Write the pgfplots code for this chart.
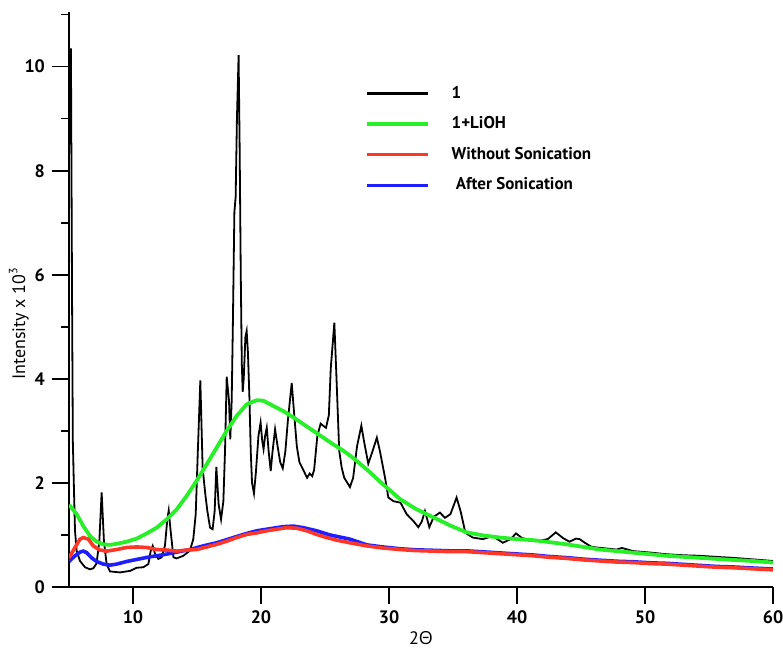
\documentclass[border=0pt]{standalone}
\usepackage{pgfplots}
\usepackage{pgfplotstable}
\usepackage{fontspec}
\pgfplotsset{compat=1.18}
\setmainfont{PT Sans}
\newfontfamily\grk{Open Sans}

\definecolor{xgreen}{RGB}{40,240,40}
\definecolor{xred}{RGB}{255,55,40}
\definecolor{xblue}{RGB}{30,30,255}

\pgfplotstableread{
x y
5.02 8.5
5.15 10.35
5.24 5.5
5.3 2.8
5.39 1.85
5.47 1.08
5.6 0.69
5.86 0.50
6.25 0.38
6.64 0.34
6.9 0.36
7.15 0.45
7.37 0.88
7.55 1.82
7.73 0.88
7.94 0.44
8.2 0.30
8.98 0.28
9.77 0.31
10.29 0.37
10.81 0.38
11.2 0.44
11.38 0.69
11.54 0.79
11.72 0.64
11.98 0.54
12.24 0.57
12.5 0.8
12.68 1.3
12.79 1.47
12.94 1.08
13.16 0.57
13.41 0.55
13.93 0.60
14.45 0.70
14.71 0.92
14.9 1.4
15.05 2.5
15.26 3.97
15.44 2.29
15.65 1.78
15.81 1.46
16.02 1.14
16.22 1.11
16.38 1.46
16.51 2.31
16.69 1.59
16.88 1.30
17.06 1.65
17.19 2.62
17.32 4.04
17.5 3.58
17.6 2.84
17.71 3.58
17.8 5.0
17.92 7.2
18.02 7.5
18.12 9.0
18.25 10.22
18.33 8.5
18.42 6.0
18.5 4.3
18.57 3.75
18.65 4.0
18.78 4.8
18.88 4.92
18.98 4.5
19.1 3.6
19.2 2.6
19.3 2.0
19.45 1.8
19.6 2.2
19.8 2.9
19.97 3.16
20.1 2.8
20.2 2.65
20.32 2.9
20.45 3.06
20.6 2.6
20.76 2.23
20.9 2.6
21.1 3.03
21.3 2.7
21.5 2.4
21.7 2.28
21.9 2.6
22.1 3.2
22.4 3.92
22.6 3.3
22.8 2.7
23.0 2.4
23.3 2.25
23.6 2.1
23.8 2.18
24.0 2.13
24.15 2.25
24.4 2.9
24.66 3.14
24.85 3.1
25.08 3.06
25.3 3.3
25.45 4.2
25.73 5.08
25.9 4.0
26.11 2.62
26.3 2.3
26.5 2.1
26.95 1.92
27.2 2.1
27.5 2.7
27.84 3.1
28.05 2.8
28.38 2.37
28.7 2.6
29.05 2.87
29.3 2.6
29.69 2.1
29.95 1.72
30.34 1.65
30.9 1.62
31.38 1.40
31.9 1.27
32.29 1.15
32.55 1.25
32.81 1.46
33.15 1.15
33.5 1.35
33.98 1.43
34.37 1.33
34.8 1.40
35.28 1.72
35.6 1.45
35.97 1.04
36.55 0.95
37.33 0.92
38.11 0.98
38.89 0.85
39.5 0.92
39.92 1.03
40.4 0.94
41.42 0.88
42.4 0.92
43.03 1.05
43.6 0.94
44.1 0.87
44.6 0.93
44.9 0.92
45.3 0.85
45.83 0.77
47.0 0.74
47.78 0.72
48.2 0.75
49.08 0.69
50.5 0.66
51.68 0.63
53.0 0.61
54.29 0.60
55.5 0.58
56.89 0.56
58.5 0.53
60.0 0.50
}\sampleone

\pgfplotstableread{
x y
5.0 1.58
5.6 1.40
6.12 1.17
6.64 0.98
7.16 0.87
7.68 0.82
8.2 0.81
8.72 0.83
9.5 0.87
10.29 0.93
11.07 1.03
11.85 1.14
12.63 1.30
13.41 1.49
14.19 1.75
14.97 2.04
15.76 2.36
16.54 2.68
17.32 3.00
18.1 3.29
18.88 3.51
19.66 3.59
20.18 3.58
20.96 3.48
21.74 3.38
22.53 3.26
23.31 3.13
24.09 3.00
24.87 2.87
25.65 2.74
26.43 2.62
27.2 2.48
28.26 2.26
29.5 1.98
30.86 1.69
32.1 1.50
33.46 1.34
34.8 1.18
36.07 1.05
37.4 0.99
38.67 0.95
40.0 0.92
41.28 0.90
42.6 0.86
43.88 0.82
45.2 0.77
46.48 0.72
47.8 0.69
49.08 0.66
50.4 0.63
51.68 0.60
53.0 0.58
54.29 0.56
55.6 0.54
56.89 0.52
58.4 0.50
60.0 0.47
}\lioh

\pgfplotstableread{
x y
5.0 0.56
5.47 0.76
5.86 0.92
6.12 0.95
6.51 0.92
6.9 0.79
7.42 0.71
7.94 0.69
8.72 0.72
9.5 0.76
10.29 0.77
11.07 0.76
11.85 0.72
12.63 0.71
13.41 0.69
14.19 0.71
14.97 0.72
15.76 0.77
16.54 0.82
17.32 0.88
18.1 0.95
18.88 1.01
19.66 1.04
20.44 1.08
21.22 1.11
22.0 1.14
22.79 1.13
23.57 1.08
24.35 1.01
25.13 0.95
25.91 0.90
26.95 0.85
28.26 0.79
29.5 0.75
30.86 0.72
32.1 0.70
33.46 0.69
34.8 0.68
36.07 0.68
37.4 0.66
38.67 0.64
40.0 0.62
41.28 0.60
42.6 0.57
43.88 0.55
45.2 0.52
46.48 0.50
47.8 0.48
49.08 0.47
50.4 0.45
51.68 0.44
53.0 0.42
54.29 0.40
55.6 0.38
56.89 0.37
58.4 0.35
60.0 0.33
}\without

\pgfplotstableread{
x y
5.0 0.49
5.47 0.60
5.86 0.67
6.12 0.69
6.38 0.66
6.77 0.56
7.16 0.49
7.68 0.44
8.2 0.42
8.72 0.44
9.5 0.49
10.29 0.53
11.33 0.58
12.37 0.62
13.41 0.67
14.45 0.72
15.49 0.79
16.54 0.85
17.58 0.93
18.62 1.01
19.66 1.08
20.7 1.12
21.74 1.16
22.53 1.17
23.31 1.14
24.35 1.08
25.39 1.00
26.95 0.92
28.26 0.81
29.5 0.77
30.86 0.735
32.1 0.715
33.46 0.705
34.8 0.695
36.07 0.695
37.4 0.675
38.67 0.655
40.0 0.635
41.28 0.615
42.6 0.585
43.88 0.565
45.2 0.535
46.48 0.515
47.8 0.495
49.08 0.485
50.4 0.465
51.68 0.455
53.0 0.435
54.29 0.415
55.6 0.395
56.89 0.385
58.4 0.365
60.0 0.345
}\after

\begin{document}
\begin{tikzpicture}
\begin{axis}[
    scale only axis,
    width=352pt,
    height=287.5pt,
    xmin=5, xmax=60,
    ymin=0, ymax=11.05,
    axis lines=left,
    axis line style={-, line width=0.8pt},
    tick align=outside,
    major tick length=8.5pt,
    minor tick length=4pt,
    every tick/.style={black, line width=0.8pt},
    xtick={10,20,...,60},
    ytick={0,2,...,10},
    minor ytick={1,3,...,11},
    /pgf/number format/assume math mode=true,
    ticklabel style={font=\bfseries\fontsize{9}{10}\selectfont},
    xlabel={2{\grk Θ}},
    ylabel={Intensity x 10\textsuperscript{3}},
    label style={font=\fontsize{9}{10}\selectfont},
    xlabel style={yshift=3pt},
    ylabel style={yshift=-9pt, xshift=-12pt},
    legend cell align=left,
    legend image code/.code={\draw[#1] (0pt,0pt) -- (30.5pt,0pt);},
    legend style={draw=none, fill=none, at={(axis description cs:0.4205,0.879)},
        anchor=north west, inner sep=0pt, row sep=3.7pt,
        font=\bfseries\fontsize{8.5}{10}\selectfont,
        /tikz/every odd column/.append style={column sep=9pt}},
]
\addplot[black, line width=0.9pt, forget plot] table {\sampleone};
\addplot[xgreen, line width=1.9pt, forget plot] table {\lioh};
\addplot[xblue, line width=1.8pt, forget plot] table {\after};
\addplot[xred, line width=1.8pt, forget plot] table {\without};
\addlegendimage{black, line width=1.6pt}
\addlegendentry{1}
\addlegendimage{xgreen, line width=1.6pt}
\addlegendentry{1+LiOH}
\addlegendimage{xred, line width=1.6pt}
\addlegendentry{Without Sonication}
\addlegendimage{xblue, line width=1.6pt}
\addlegendentry{\ After Sonication}
\end{axis}
\pgfresetboundingbox
\path[use as bounding box] ([xshift=-34.5pt,yshift=-31.5pt]current axis.south west)
    rectangle ([xshift=5pt,yshift=6pt]current axis.north east);
\end{tikzpicture}
\end{document}
